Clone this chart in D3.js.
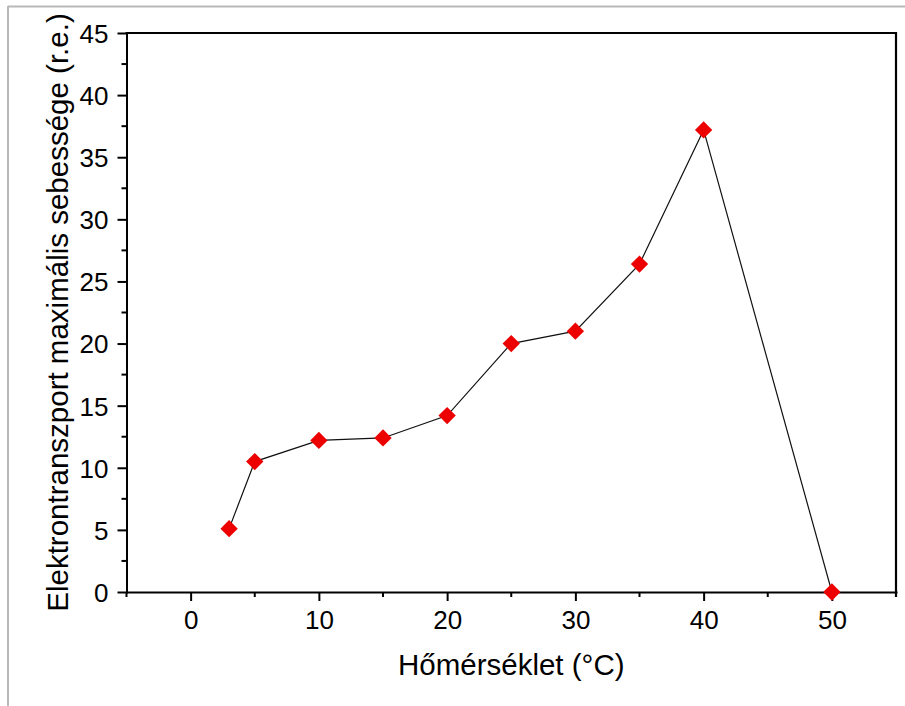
<!DOCTYPE html>
<html>
<head>
<meta charset="utf-8">
<script src="https://cdn.jsdelivr.net/npm/d3@7/dist/d3.min.js"></script>
<style>
  html, body { margin: 0; padding: 0; background: #fff; }
  svg { display: block; font-family: Arial, "Liberation Sans", sans-serif; }
</style>
</head>
<body>
<svg id="chart" width="905" height="706"></svg>
<script>
// Temperature (°C) and maximal electron-transport rate (relative units)
const temperatures = [3, 5, 10, 15, 20, 25, 30, 35, 40, 50];
const rates = [5.1, 10.5, 12.2, 12.4, 14.2, 20.0, 21.0, 26.4, 37.2, 0.0];

const xTickValues = [0, 10, 20, 30, 40, 50];
const xMinorTicks = [-5, 5, 15, 25, 35, 45];
const yTickValues = [0, 5, 10, 15, 20, 25, 30, 35, 40, 45];
const yMinorTicks = [2.5, 7.5, 12.5, 17.5, 22.5, 27.5, 32.5, 37.5, 42.5];

const xTitle = "Hőmérséklet (°C)";
const yTitle = "Elektrontranszport maximális sebessége (r.e.)";

const svg = d3.select("#chart");
const plot = { left: 126.5, right: 896, top: 33, bottom: 592 };

const x = d3.scaleLinear().domain([-5, 55]).range([plot.left, plot.right]);
const y = d3.scaleLinear().domain([0, 45]).range([plot.bottom, plot.top]);

// light frame around the figure
svg.append("line").attr("x1", 8).attr("x2", 905).attr("y1", 6.5).attr("y2", 6.5)
  .attr("stroke", "#b8b8b8").attr("stroke-width", 2);
svg.append("line").attr("x1", 8).attr("x2", 8).attr("y1", 6).attr("y2", 706)
  .attr("stroke", "#b8b8b8").attr("stroke-width", 2);

// top and right frame lines of the plot box
svg.append("line").attr("x1", plot.left).attr("x2", plot.right)
  .attr("y1", plot.top).attr("y2", plot.top)
  .attr("stroke", "#000").attr("stroke-width", 2).attr("stroke-linecap", "square");
svg.append("line").attr("x1", plot.right).attr("x2", plot.right)
  .attr("y1", plot.top).attr("y2", plot.bottom + 4)
  .attr("stroke", "#000").attr("stroke-width", 2.2).attr("stroke-linecap", "square");

// x axis
const xAxis = svg.append("g").attr("transform", `translate(0,${plot.bottom})`)
  .call(d3.axisBottom(x).tickValues(xTickValues).tickSize(9).tickPadding(10).tickSizeOuter(0));
xAxis.append("g").selectAll("line").data(xMinorTicks).join("line")
  .attr("x1", d => x(d)).attr("x2", d => x(d)).attr("y1", 0).attr("y2", 5)
  .attr("stroke", "#000").attr("stroke-width", 2);

// y axis
const yAxis = svg.append("g").attr("transform", `translate(${plot.left},0)`)
  .call(d3.axisLeft(y).tickValues(yTickValues).tickSize(9).tickPadding(9).tickSizeOuter(0));
yAxis.append("g").selectAll("line").data(yMinorTicks).join("line")
  .attr("x1", 0).attr("x2", -5).attr("y1", d => y(d)).attr("y2", d => y(d))
  .attr("stroke", "#000").attr("stroke-width", 2);

[xAxis, yAxis].forEach(g => {
  g.select(".domain").attr("stroke", "#000").attr("stroke-width", 2).attr("stroke-linecap", "square");
  g.selectAll(".tick line").attr("stroke", "#000").attr("stroke-width", 2);
  g.selectAll(".tick text").attr("fill", "#000")
    .style("font-family", "Arial, 'Liberation Sans', sans-serif").style("font-size", "26px");
});
yAxis.selectAll(".tick text").attr("dy", "0.36em");

// axis titles
svg.append("text").attr("x", (plot.left + plot.right) / 2).attr("y", 675)
  .attr("text-anchor", "middle").attr("fill", "#000")
  .style("font-size", "29.5px").text(xTitle);
svg.append("text")
  .attr("transform", `translate(68,${(plot.top + plot.bottom) / 2}) rotate(-90)`)
  .attr("text-anchor", "middle").attr("fill", "#000")
  .style("font-size", "29.5px").text(yTitle);

// data line
const pts = temperatures.map((t, i) => [t, rates[i]]);
svg.append("path").datum(pts)
  .attr("fill", "none").attr("stroke", "#111").attr("stroke-width", 1.2)
  .attr("d", d3.line().x(d => x(d[0])).y(d => y(d[1])));

// diamond markers
const diamond = d3.symbol().type(d3.symbolSquare).size(150);
svg.append("g").selectAll("path").data(pts).join("path")
  .attr("transform", d => `translate(${x(d[0])},${y(d[1])}) rotate(45)`)
  .attr("d", diamond)
  .attr("fill", "#ec0000");
</script>
</body>
</html>
